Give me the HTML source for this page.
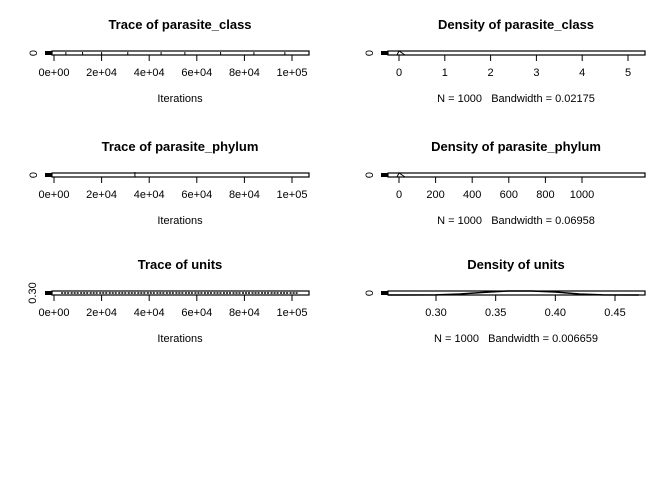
<!DOCTYPE html>
<html><head><meta charset="utf-8"><style>
body{margin:0;background:#fff;}
svg text{font-family:"Liberation Sans",Arial,sans-serif;fill:#000;}
</style></head><body>
<svg id="c" width="672" height="480"></svg>
<script>
const traceTicks=[0,20000,40000,60000,80000,100000];
const traceTickLabels=["0e+00","2e+04","4e+04","6e+04","8e+04","1e+05"];
const classDensTicks=[0,1,2,3,4,5];
const phylumDensTicks=[0,200,400,600,800,1000];
const unitsDensTicks=[0.30,0.35,0.40,0.45];
const unitsDensLabels=["0.30","0.35","0.40","0.45"];
const titles=["Trace of parasite_class","Density of parasite_class","Trace of parasite_phylum","Density of parasite_phylum","Trace of units","Density of units"];
const bandwidths=["0.02175","0.06958","0.006659"];
const unitsTraceIters=[3000,7000,11000,15000,19000,23000,27000,31000,35000,39000,43000,47000,51000,55000,59000,63000,67000,71000,75000,79000,83000,87000,91000,95000,99000];
const classTraceSpikes=[5000,12000,20000,31000,45000,55000,70000,84000,97000];
const unitsDensX=[0.26,0.30,0.32,0.34,0.36,0.38,0.40,0.42,0.44,0.47];
const unitsDensY=[0,0.2,1.5,4,6,6,4.5,1.5,0.2,0];

const svg=document.getElementById('c');
const NS="http://www.w3.org/2000/svg";
function el(t,a,txt){const e=document.createElementNS(NS,t);for(const k in a)e.setAttribute(k,a[k]);if(txt!==undefined)e.textContent=txt;svg.appendChild(e);return e;}
const rowTop=[51,173,291];
const rowH=4;
function linScale(d0,d1,r0,r1){return v=>r0+(v-d0)/(d1-d0)*(r1-r0);}
const traceX=linScale(0,100000,54,292);
const densX=[linScale(0,5,399,628),linScale(0,1000,399,582),linScale(0.30,0.45,436,615)];
for(let r=0;r<3;r++){
  const y0=rowTop[r];
  let t=el('text',{x:180,y:y0-22,'text-anchor':'middle','font-size':13,'font-weight':'bold'},titles[r*2]);
  
  let b=el('rect',{x:52,y:y0,width:257,height:rowH,fill:'none',stroke:'#000','stroke-width':1.2});
  
  el('rect',{x:45,y:y0,width:7,height:rowH,fill:'#000'});
  const yl=r==2?"0.30":"0";
  t=el('text',{x:0,y:0,'text-anchor':'middle','font-size':11,transform:`translate(${r==2?36:37},${y0+2}) rotate(-90)`},yl);
  
  traceTicks.forEach((v,i)=>{const x=traceX(v);
    el('line',{x1:x,x2:x,y1:y0+rowH,y2:y0+rowH+6,stroke:'#000'});
    const tl=el('text',{x:x,y:y0+25,'text-anchor':'middle','font-size':11},traceTickLabels[i]);
    });
  t=el('text',{x:180,y:y0+51,'text-anchor':'middle','font-size':11},"Iterations");
  
  if(r==0){classTraceSpikes.forEach(v=>{const m=el('line',{x1:traceX(v),x2:traceX(v),y1:y0+1,y2:y0+rowH,stroke:'#000'});});}
  else if(r==1){const m=el('line',{x1:traceX(34000),x2:traceX(34000),y1:y0-1,y2:y0+rowH,stroke:'#000'});}
  else {unitsTraceIters.forEach(v=>{const m=el('line',{x1:traceX(v),x2:traceX(v+3500),y1:y0+2,y2:y0+2,stroke:'#000','stroke-width':1.5,'stroke-dasharray':'2 1'});});}
  t=el('text',{x:516,y:y0-22,'text-anchor':'middle','font-size':13,'font-weight':'bold'},titles[r*2+1]);
  
  b=el('rect',{x:388,y:y0,width:257,height:rowH,fill:'none',stroke:'#000','stroke-width':1.2});
  
  el('rect',{x:381,y:y0,width:7,height:rowH,fill:'#000'});
  t=el('text',{x:0,y:0,'text-anchor':'middle','font-size':11,transform:`translate(373,${y0+2}) rotate(-90)`},"0");
  
  const ticks=r==0?classDensTicks:r==1?phylumDensTicks:unitsDensTicks;
  ticks.forEach((v,i)=>{const x=densX[r](v);
    el('line',{x1:x,x2:x,y1:y0+rowH,y2:y0+rowH+6,stroke:'#000'});
    const tl=el('text',{x:x,y:y0+25,'text-anchor':'middle','font-size':11},r==2?unitsDensLabels[i]:String(v));
    });
  t=el('text',{x:516,y:y0+51,'text-anchor':'middle','font-size':11},"N = 1000   Bandwidth = "+bandwidths[r]);
  
  t.style.whiteSpace='pre';
  if(r==2){const ymax=Math.max(...unitsDensY);
    const pts=unitsDensX.map((v,i)=>`${densX[2](v)},${y0+rowH-unitsDensY[i]/ymax*rowH}`).join(' ');
    const p=el('polyline',{points:pts,fill:'none',stroke:'#000','stroke-width':1.5});
    }
  else {const x=densX[r](0);const p=el('polyline',{points:`${x-2},${y0+rowH} ${x},${y0} ${x+6},${y0+rowH}`,fill:'none',stroke:'#000'});
    }
}
</script>
</body></html>
